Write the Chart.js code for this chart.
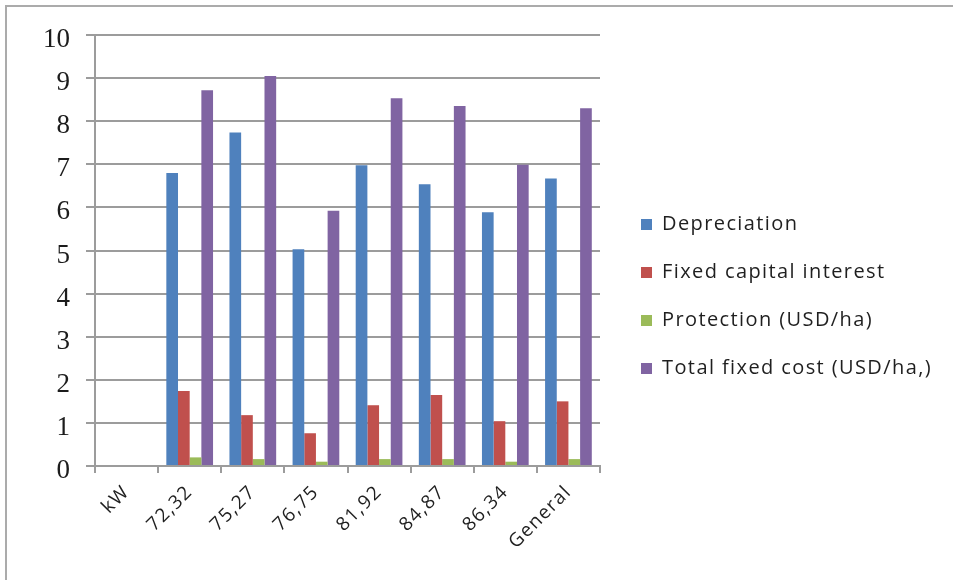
<!DOCTYPE html>
<html>
<head>
<meta charset="utf-8">
<script src="https://cdn.jsdelivr.net/npm/chart.js@4.4.1/dist/chart.umd.min.js"></script>
<style>
  html, body { margin: 0; padding: 0; background: #ffffff; }
  #wrap { position: relative; width: 953px; height: 580px; overflow: hidden; }
  #frame {
    position: absolute; left: 5px; top: 5px; width: 1000px; height: 1000px;
    border-top: 2px solid #ababab; border-left: 2px solid #ababab;
    pointer-events: none;
  }
  #chart { position: absolute; left: 0; top: 0; }
</style>
</head>
<body>
<div id="wrap">
  <div id="frame"></div>
  <canvas id="chart" width="953" height="580"></canvas>
</div>
<script>
// Tractor power classes (kW) and the overall average
const categories = ['kW', '72,32', '75,27', '76,75', '81,92', '84,87', '86,34', 'General'];

// Fixed cost components per class
const depreciation = [null, 6.80, 7.74, 5.03, 6.98, 6.54, 5.89, 6.67];
const capitalInterest = [null, 1.74, 1.18, 0.76, 1.41, 1.65, 1.04, 1.50];
const protection = [null, 0.20, 0.16, 0.10, 0.16, 0.16, 0.10, 0.16];
const totalFixedCost = [null, 8.72, 9.05, 5.92, 8.53, 8.35, 6.99, 8.30];

const seriesNames = ['Depreciation', 'Fixed capital interest', 'Protection (USD/ha)', 'Total fixed cost (USD/ha,)'];
const seriesColors = ['#4F81BD', '#C0504D', '#9BBB59', '#8064A2'];

const yMin = 0, yMax = 10, yStep = 1;

const GRID = '#9c9c9c';
const TEXT_FONT = "'Open Sans', sans-serif";
const SPACING = '1.4px';

// Widen the legend box, nudge its entries and space out the legend / category text
const textTweaks = {
  id: 'textTweaks',
  beforeLayout(chart) {
    const lg = chart.legend;
    if (!lg || lg._tweaked) return;
    lg._tweaked = true;
    const fit = lg.fit, draw = lg.draw;
    lg.fit = function () { fit.call(this); this.width = 353; };
    lg.draw = function () {
      const c = this.ctx;
      c.save();
      c.translate(13, -11);
      c.letterSpacing = SPACING;
      draw.apply(this, arguments);
      c.restore();
    };
  },
  beforeDraw(chart) {
    const x = chart.scales.x;
    if (!x || x._tweaked) return;
    x._tweaked = true;
    const drawLabels = x.drawLabels;
    x.drawLabels = function () {
      const c = this.ctx;
      c.save();
      c.letterSpacing = SPACING;
      drawLabels.apply(this, arguments);
      c.restore();
    };
  }
};

const datasets = [depreciation, capitalInterest, protection, totalFixedCost].map((values, i) => ({
  label: seriesNames[i],
  data: values,
  backgroundColor: seriesColors[i],
  borderWidth: 0,
  categoryPercentage: 0.74,
  barPercentage: 1.0
}));

new Chart(document.getElementById('chart'), {
  type: 'bar',
  data: { labels: categories, datasets },
  plugins: [textTweaks],
  options: {
    responsive: false,
    animation: false,
    layout: { padding: { top: 35, left: 0, right: 0, bottom: 0 } },
    plugins: {
      tooltip: { enabled: false },
      legend: {
        position: 'right',
        align: 'center',
        labels: {
          boxWidth: 11,
          boxHeight: 11,
          padding: 28,
          color: '#1f1f1f',
          font: { family: TEXT_FONT, size: 20 }
        }
      }
    },
    scales: {
      x: {
        offset: true,
        grid: {
          offset: true,
          drawOnChartArea: false,
          drawTicks: true,
          tickLength: 7,
          color: GRID,
          lineWidth: 2
        },
        border: { color: GRID, width: 2 },
        ticks: {
          minRotation: 45,
          maxRotation: 45,
          autoSkip: false,
          padding: 8,
          color: '#1f1f1f',
          font: { family: TEXT_FONT, size: 19 }
        },
        afterFit(scale) { scale.height = 114; }
      },
      y: {
        min: yMin,
        max: yMax,
        grid: {
          color: GRID,
          lineWidth: 2,
          drawTicks: true,
          tickLength: 9
        },
        border: { color: GRID, width: 2 },
        ticks: {
          stepSize: yStep,
          padding: 16,
          labelOffset: 5,
          color: '#1c1c1c',
          font: { family: "'Liberation Serif', 'Times New Roman', serif", size: 27 }
        },
        afterFit(scale) { scale.width = 95; }
      }
    }
  }
});
</script>
</body>
</html>
